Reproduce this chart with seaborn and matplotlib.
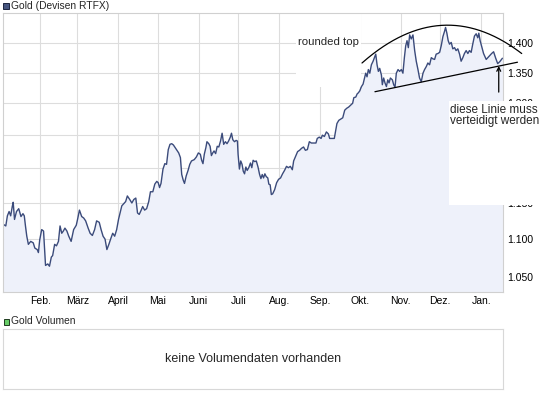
import matplotlib
matplotlib.use("Agg")
import matplotlib.pyplot as plt
import numpy as np
import pandas as pd
import seaborn as sns
from matplotlib.patches import Rectangle
from matplotlib.ticker import FixedLocator, NullLocator

sns.set_style("white")
plt.rcParams["font.family"] = ["Liberation Sans", "DejaVu Sans"]

# gold price (USD); x as days since 2010-01-01
START = pd.Timestamp("2010-01-01")
day_offset = [
    3.1, 4.8, 6.0, 7.3, 8.5, 9.7, 10.4, 11.4, 12.9, 14.6, 16.3, 17.8, 18.8, 19.7, 20.7,
    21.9, 23.7, 25.6, 26.8, 28.6, 29.5, 30.5, 32.0, 33.4, 34.9, 36.6, 37.9, 39.3, 40.3,
    41.8, 43.2, 44.7, 45.9, 47.2, 48.4, 49.6, 51.1, 52.5, 54.3, 56.2, 58.2, 59.4, 60.6,
    62.3, 63.8, 65.3, 67.2, 68.7, 70.4, 72.1, 73.6, 75.6, 77.0, 78.5, 80.0, 81.4, 82.9,
    84.4, 85.8, 87.3, 88.8, 90.2, 91.7, 92.7,
    94.1, 95.6, 96.9, 98.7, 100.3, 101.8, 103.3, 104.6, 105.9, 107.4, 108.5, 110.0,
    111.5, 113.1, 114.4, 116.2, 117.7, 119.2, 120.3, 121.3, 122.4, 123.9, 125.3, 126.6,
    127.9, 129.2, 130.5, 131.8, 133.1, 134.5, 135.8, 137.1, 138.1, 139.2, 140.2, 141.5,
    142.9, 144.2, 145.5, 147.6, 149.2, 150.7, 152.2, 153.2, 154.2, 155.2, 156.4, 157.2,
    158.6, 159.6, 160.6, 161.6, 162.6, 163.8, 165.0, 166.2, 167.5, 168.7, 169.9, 171.2,
    172.4, 173.6, 174.9, 175.8, 176.8, 178.1, 179.3, 180.3, 180.8, 181.8, 182.8, 183.8,
    184.7, 185.7, 186.7, 187.7, 188.9, 190.2, 191.2, 192.2, 193.4, 194.6, 195.9, 197.1,
    198.1, 199.1, 200.1, 201.1, 202.1, 203.3, 204.1, 205.1, 206.0, 207.0, 208.5, 210.0,
    211.5, 213.0, 214.5, 216.0, 217.5, 218.9, 220.4, 221.9, 222.9, 224.4, 225.9, 227.4,
    228.9, 230.4, 231.8, 233.3, 234.8, 236.3, 238.3, 239.8, 240.8, 242.3, 243.7, 244.7,
    246.2, 247.7, 249.2, 250.2, 251.7, 253.7, 254.7, 255.7, 257.1, 258.6, 260.1, 261.6,
    263.1, 264.6, 266.1, 267.6, 268.5, 270.0, 271.0, 272.0, 273.0,
    274.3, 275.5, 276.8, 277.5, 278.5, 279.5, 280.6, 281.8, 283.1, 284.1, 285.1, 286.1,
    287.1, 288.1, 289.4, 290.1, 291.1, 292.1, 293.2, 294.2, 295.2, 296.2, 297.7, 298.7,
    299.7, 300.7, 302.0, 303.2, 304.5, 305.7, 306.8, 307.8, 308.8, 309.8, 310.8, 312.0,
    313.3, 314.6, 315.8, 317.1, 318.3, 319.6, 320.9, 322.1, 323.4, 324.6, 325.9, 327.2,
    328.4, 329.7, 330.9, 332.2, 333.5, 334.7, 336.0, 337.2, 338.0, 339.0, 340.0, 341.0,
    342.3, 343.5, 344.8, 346.0, 347.3, 348.6, 349.8, 351.1, 352.3, 353.6, 354.9, 356.1,
    357.4, 358.6, 359.9, 361.2, 362.4, 363.2, 364.2,
    366.8, 368.8, 370.8, 372.9, 374.4, 376.0, 377.5, 379.0, 381.1,
]
gold = [
    1120, 1118, 1132, 1138, 1132, 1145, 1151, 1127, 1138, 1142, 1131, 1135, 1132, 1118, 1104,
    1093, 1097, 1095, 1088, 1086, 1082, 1099, 1113, 1111, 1065, 1067, 1064, 1076, 1078,
    1093, 1091, 1097, 1118, 1108, 1111, 1115, 1111, 1104, 1097, 1113, 1119, 1129, 1140,
    1131, 1129, 1125, 1115, 1108, 1105, 1113, 1125, 1123, 1113, 1104, 1100, 1086, 1093,
    1101, 1108, 1104, 1113, 1127, 1138, 1146,
    1149, 1152, 1160, 1155, 1150, 1155, 1157, 1136, 1134, 1140, 1145, 1140,
    1142, 1152, 1166, 1166, 1177, 1181, 1179, 1172, 1178, 1199, 1207, 1206,
    1228, 1236, 1237, 1235, 1231, 1227, 1223, 1216, 1191, 1183, 1178, 1189,
    1197, 1206, 1211, 1213, 1217, 1223, 1221, 1212, 1207, 1221, 1231, 1240,
    1237, 1233, 1219, 1223, 1226, 1222, 1233, 1232, 1241, 1253, 1236, 1240,
    1237, 1241, 1247, 1253, 1243, 1240, 1242, 1241, 1221, 1199, 1211, 1206,
    1196, 1192, 1202, 1197, 1201, 1208, 1201, 1212, 1210, 1211, 1202, 1191,
    1185, 1191, 1186, 1192, 1188, 1186, 1177, 1176, 1162, 1163, 1169, 1179,
    1184, 1186, 1192, 1197, 1203, 1201, 1203, 1198, 1211, 1218, 1225, 1227,
    1230, 1232, 1227, 1228, 1240, 1238, 1238, 1238, 1245, 1247, 1245, 1250,
    1248, 1255, 1252, 1245, 1245, 1245, 1256, 1268, 1273, 1275, 1277, 1289,
    1292, 1294, 1297, 1300, 1309, 1310, 1315, 1317, 1320,
    1327, 1331, 1343, 1349, 1343, 1355, 1349, 1363, 1369, 1375, 1381, 1363,
    1352, 1357, 1346, 1330, 1341, 1333, 1327, 1338, 1333, 1341, 1338, 1330,
    1326, 1349, 1355, 1352, 1355, 1349, 1375, 1395, 1404, 1392, 1414, 1407,
    1414, 1387, 1369, 1355, 1341, 1335, 1349, 1355, 1360, 1366, 1363, 1375,
    1373, 1372, 1381, 1382, 1384, 1395, 1411, 1420, 1427, 1417, 1404, 1398,
    1401, 1390, 1392, 1387, 1390, 1381, 1369, 1375, 1382, 1387, 1382, 1387,
    1384, 1398, 1412, 1416, 1409, 1417, 1404,
    1382, 1372, 1377, 1382, 1385, 1374, 1365, 1368, 1374,
]

month_labels = ["Feb.", "März", "April", "Mai", "Juni", "Juli",
                "Aug.", "Sep.", "Okt.", "Nov.", "Dez.", "Jan."]
price_ticks = [1050, 1100, 1150, 1200, 1250, 1300, 1350, 1400]
price_labels = ["1.050", "1.100", "1.150", "1.200", "1.250", "1.300", "1.350", "1.400"]

# hand-drawn chart annotations (days since start, price)
top_curve_days = [274.7, 338.4, 395.7]
top_curve_prices = [1366, 1431, 1382]
support_days = [284.5, 392.5]
support_prices = [1318.6, 1367.3]
arrow_day = 378.3
arrow_prices = [1318, 1361]

LINE = "#3b4b7b"
FILL = "#eef1fa"
GRID = "#dddddd"

W, H = 545, 398


def fx(px):
    return px / W


def fy(py):
    return 1 - py / H


def to_dates(days):
    return START + pd.to_timedelta(np.asarray(days, dtype=float), unit="D")


df = pd.DataFrame({"date": to_dates(day_offset), "gold": gold})

fig = plt.figure(figsize=(W / 100, H / 100), dpi=100)
fig.patch.set_facecolor("white")

ax = fig.add_axes([fx(2.5), fy(292), fx(502.7) - fx(2.5), fy(13) - fy(292)])
ax.set_axisbelow(True)
ax.fill_between(df["date"], df["gold"], 1000, color=FILL, lw=0, zorder=1)
sns.lineplot(data=df, x="date", y="gold", estimator=None, sort=False,
             color=LINE, linewidth=1.0, ax=ax, zorder=2)

ax.set_yscale("log")
ax.set_ylim(1030.8, 1452.6)
ax.set_xlim(to_dates([2.3])[0], to_dates([381.3])[0])
ax.yaxis.set_major_locator(FixedLocator(price_ticks))
ax.yaxis.set_minor_locator(NullLocator())
ax.set_yticklabels(price_labels)
ax.yaxis.tick_right()
month_starts = pd.date_range("2010-02-01", periods=len(month_labels), freq="MS")
ax.set_xticks(month_starts)
ax.set_xticklabels(month_labels)
ax.xaxis.set_minor_locator(NullLocator())
ax.tick_params(axis="both", length=0, labelsize=7.5, colors="black")
ax.tick_params(axis="x", pad=3.2)
ax.tick_params(axis="y", pad=3.0)
ax.grid(True, color=GRID, linewidth=0.8)
ax.set_xlabel("")
ax.set_ylabel("")
for s in ax.spines.values():
    s.set_color("#d0d0d0")
    s.set_linewidth(0.8)

# white patch behind "rounded top"
x0 = ax.transAxes.inverted().transform(fig.transFigure.transform((fx(296.5), fy(87))))
x1 = ax.transAxes.inverted().transform(fig.transFigure.transform((fx(361), fy(13.8))))
ax.add_patch(Rectangle((x0[0], x0[1]), x1[0] - x0[0], x1[1] - x0[1],
                       transform=ax.transAxes, facecolor="white", edgecolor="none", zorder=0.8))

# rounded top curve
coef = np.polyfit(top_curve_days, np.log(top_curve_prices), 2)
dd = np.linspace(top_curve_days[0], top_curve_days[-1], 200)
ax.plot(to_dates(dd), np.exp(np.polyval(coef, dd)), color="black", lw=0.9, clip_on=False, zorder=5)
# support line
ax.plot(to_dates(support_days), support_prices, color="black", lw=0.9, clip_on=False, zorder=5)
# arrow
ad = to_dates([arrow_day])[0]
ax.annotate("", xy=(ad, arrow_prices[1]), xytext=(ad, arrow_prices[0]),
            arrowprops=dict(arrowstyle="->", color="black", lw=0.9, shrinkA=0, shrinkB=0,
                            mutation_scale=7),
            annotation_clip=False, zorder=6)

fig.text(fx(298), fy(42), "rounded top", fontsize=8.2, ha="left", va="center")

# white text box covering the right side
fig.patches.append(Rectangle((fx(449.3), fy(205)), fx(545) - fx(449.3), fy(100.7) - fy(205),
                             transform=fig.transFigure, facecolor="white",
                             edgecolor="none", zorder=3))
fig.text(fx(450), fy(115.3), "diese Linie muss\nverteidigt werden", fontsize=8.5,
         ha="left", va="center", linespacing=0.95, zorder=4)

# legend row on top
fig.patches.append(Rectangle((fx(3), fy(9)), fx(6), 6 / H, transform=fig.transFigure,
                             facecolor="#46557f", edgecolor="#1c2440", lw=0.7, zorder=3))
fig.text(fx(11), fy(6), "Gold (Devisen RTFX)", fontsize=7.4, ha="left", va="center")

# volume panel
fig.patches.append(Rectangle((fx(3.5), fy(324.5)), fx(5.5), 5.5 / H, transform=fig.transFigure,
                             facecolor="#66cc66", edgecolor="#1f3a1f", lw=0.7, zorder=3))
fig.text(fx(11), fy(321.5), "Gold Volumen", fontsize=7.4, ha="left", va="center")

vax = fig.add_axes([fx(2.5), fy(389), fx(502.7) - fx(2.5), fy(329) - fy(389)])
vax.set_xticks([])
vax.set_yticks([])
for s in vax.spines.values():
    s.set_color("#d8d8d8")
    s.set_linewidth(0.8)
vax.text(0.5, 0.5, "keine Volumendaten vorhanden", transform=vax.transAxes,
         ha="center", va="center", fontsize=9)

fig.savefig("out.png", dpi=100, facecolor="white")
